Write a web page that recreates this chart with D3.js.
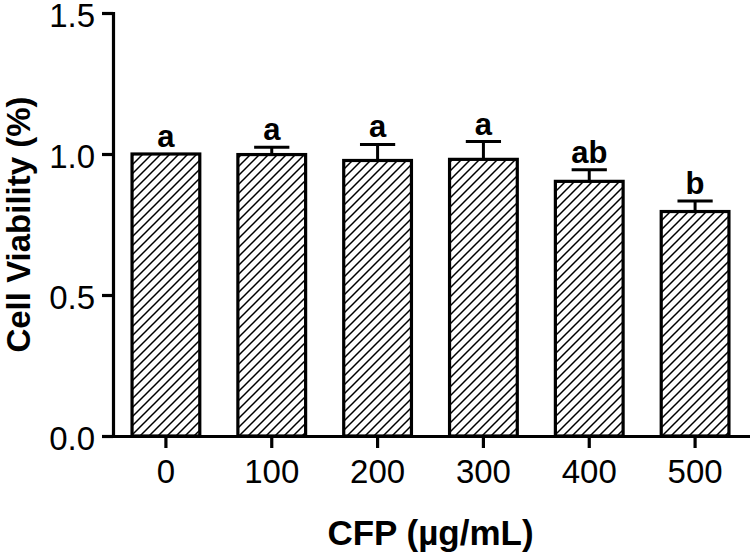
<!DOCTYPE html>
<html>
<head>
<meta charset="utf-8">
<script src="https://cdn.jsdelivr.net/npm/d3@7"></script>
<style>
  html, body { margin: 0; padding: 0; background: #fff; }
  svg { display: block; }
  text { font-family: "Liberation Sans", Arial, Helvetica, sans-serif; fill: #000; }
</style>
</head>
<body>
<svg id="chart" width="750" height="553"></svg>
<script>
const categories = ["0", "100", "200", "300", "400", "500"];
const means = [1.0, 0.998, 0.977, 0.981, 0.903, 0.796];
const sds = [0, 0.026, 0.057, 0.063, 0.041, 0.037];
const letters = ["a", "a", "a", "a", "ab", "b"];
const yTicks = [0, 0.5, 1.0, 1.5];
const xTitle = "CFP (µg/mL)";
const yTitle = "Cell Viability (%)";

(function () {
const svg = d3.select("#chart");
const mL = 113, mR = 748, mT = 13, mB = 436;

const x = d3.scaleBand().domain(categories).range([mL, mR])
  .paddingInner(0.36).paddingOuter(0.18);
const y = d3.scaleLinear().domain([0, 1.5]).range([mB, mT]);

const defs = svg.append("defs");
const pat = defs.append("pattern").attr("id", "hatch")
  .attr("patternUnits", "userSpaceOnUse").attr("width", 9).attr("height", 9);
pat.append("rect").attr("width", 9).attr("height", 9).attr("fill", "#fff");
pat.append("path").attr("d", "M-2.25,2.25 L2.25,-2.25 M0,9 L9,0 M6.75,11.25 L11.25,6.75")
  .attr("stroke", "#000").attr("stroke-width", 1.5);

const data = categories.map((c, i) => ({ c, m: means[i], s: sds[i], l: letters[i] }));

// bars
svg.append("g").selectAll("rect").data(data).join("rect")
  .attr("x", d => x(d.c))
  .attr("y", d => y(d.m))
  .attr("width", x.bandwidth())
  .attr("height", d => y(0) - y(d.m))
  .attr("fill", "url(#hatch)")
  .attr("stroke", "#000").attr("stroke-width", 3.2);

// error bars (upper only)
const eb = svg.append("g").attr("stroke", "#000").attr("stroke-width", 3);
const capHalf = x.bandwidth() * 0.26;
data.filter(d => d.s > 0).forEach(d => {
  const cx = x(d.c) + x.bandwidth() / 2;
  eb.append("line").attr("x1", cx).attr("x2", cx).attr("y1", y(d.m)).attr("y2", y(d.m + d.s));
  eb.append("line").attr("x1", cx - capHalf).attr("x2", cx + capHalf)
    .attr("y1", y(d.m + d.s)).attr("y2", y(d.m + d.s));
});

// significance letters
svg.append("g").selectAll("text").data(data).join("text")
  .attr("x", d => x(d.c) + x.bandwidth() / 2)
  .attr("y", d => y(d.m + d.s) - 7)
  .attr("text-anchor", "middle")
  .attr("font-size", 31).attr("font-weight", "bold")
  .text(d => d.l);

// y axis
const yAxis = svg.append("g").attr("transform", `translate(${mL},0)`)
  .call(d3.axisLeft(y).tickValues(yTicks).tickFormat(d3.format(".1f"))
    .tickSize(11).tickSizeOuter(0).tickPadding(7));
// x axis
const xAxis = svg.append("g").attr("transform", `translate(0,${mB})`)
  .call(d3.axisBottom(x).tickSize(12).tickSizeOuter(0).tickPadding(12));

[yAxis, xAxis].forEach(g => {
  g.select(".domain").attr("stroke-width", 3.2).attr("stroke-linecap", "square");
  g.selectAll(".tick line").attr("stroke-width", 3.2);
  g.selectAll(".tick text").attr("font-size", 33).attr("font-family", "'Liberation Sans', Arial, sans-serif").attr("fill", "#000");
});
xAxis.selectAll(".tick text").attr("dy", "0.71em");
yAxis.selectAll(".tick text").attr("dy", "0.4em");

// titles
svg.append("text")
  .attr("x", (mL + mR) / 2).attr("y", 545)
  .attr("text-anchor", "middle")
  .attr("font-size", 35).attr("font-weight", "bold")
  .text(xTitle);

svg.append("text")
  .attr("transform", `translate(30,${(mT + mB) / 2}) rotate(-90)`)
  .attr("text-anchor", "middle")
  .attr("font-size", 33).attr("font-weight", "bold")
  .text(yTitle);
})();
</script>
</body>
</html>
